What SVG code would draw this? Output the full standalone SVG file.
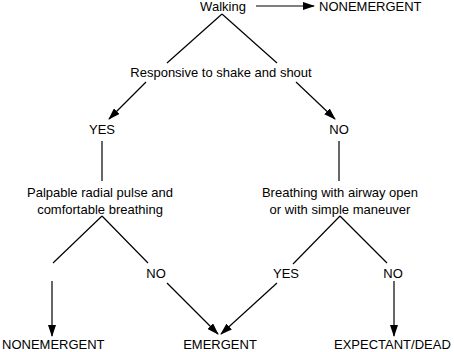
<svg xmlns="http://www.w3.org/2000/svg" width="454" height="352" viewBox="0 0 454 352">
<defs>
<marker id="ah" markerWidth="12" markerHeight="8" refX="11" refY="4" orient="auto" markerUnits="userSpaceOnUse">
<path d="M0,0 L12,4 L0,8 Z" fill="#000"/>
</marker>
<style>
text{font-family:"Liberation Sans",Arial,sans-serif;font-size:13px;fill:#000}
.c{text-anchor:middle}
line{stroke:#000;stroke-width:1.2;fill:none}
.a{marker-end:url(#ah)}
</style>
</defs>
<rect width="454" height="352" fill="#fff"/>
<g id="connectors">
<line class="a" x1="256" y1="6" x2="314" y2="6"/>
<line x1="222" y1="14" x2="167" y2="63"/>
<line x1="222" y1="14" x2="277" y2="63"/>
<line class="a" x1="146" y1="82" x2="109" y2="119"/>
<line class="a" x1="296" y1="82" x2="335" y2="119"/>
<line x1="102" y1="141" x2="102" y2="181"/>
<line x1="339" y1="141" x2="339" y2="181"/>
<line x1="102" y1="216" x2="53" y2="263"/>
<line x1="102" y1="216" x2="148" y2="263"/>
<line x1="340" y1="216" x2="293" y2="264"/>
<line x1="340" y1="216" x2="387" y2="263"/>
<line class="a" x1="52" y1="281" x2="52" y2="336"/>
<line class="a" x1="167" y1="283" x2="218" y2="334"/>
<line class="a" x1="277" y1="283" x2="221" y2="334"/>
<line class="a" x1="394" y1="281" x2="394" y2="336"/>
</g>
<g id="walking"><text class="c" x="223" y="11">Walking</text></g>
<g id="nonemergent-top"><text x="319" y="11">NONEMERGENT</text></g>
<g id="responsive"><text class="c" x="221" y="77">Responsive to shake and shout</text></g>
<g id="yes1"><text class="c" x="102" y="134">YES</text></g>
<g id="no1"><text class="c" x="339" y="134">NO</text></g>
<g id="palpable"><text class="c" x="100" y="197">Palpable radial pulse and</text><text class="c" x="100" y="214">comfortable breathing</text></g>
<g id="breathing"><text class="c" x="340" y="197">Breathing with airway open</text><text class="c" x="340" y="214">or with simple maneuver</text></g>
<g id="no2"><text class="c" x="156" y="278">NO</text></g>
<g id="yes2"><text class="c" x="286" y="278">YES</text></g>
<g id="no3"><text class="c" x="393" y="278">NO</text></g>
<g id="nonemergent-bottom"><text x="2" y="349">NONEMERGENT</text></g>
<g id="emergent"><text class="c" x="220" y="349">EMERGENT</text></g>
<g id="expectant"><text x="334" y="349">EXPECTANT/DEAD</text></g>
</svg>
